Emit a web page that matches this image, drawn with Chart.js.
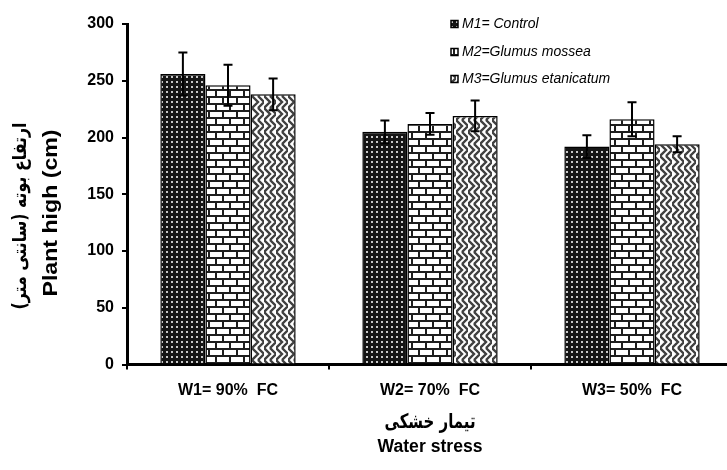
<!DOCTYPE html>
<html>
<head>
<meta charset="utf-8">
<script src="https://cdn.jsdelivr.net/npm/chart.js@4.4.1/dist/chart.umd.min.js"></script>
<style>
	html, body { margin: 0; padding: 0; background: #fff; overflow: hidden; }
	#wrap { width: 740px; height: 470px; }
</style>
</head>
<body>
<div id="wrap"><canvas id="chart"></canvas></div>
<script>
// chart data
const categories = ["W1= 90%  FC", "W2= 70%  FC", "W3= 50%  FC"];
const seriesLabels = ["M1= Control", "M2=Glumus mossea", "M3=Glumus etanicatum"];
const m1Values = [256, 205, 192];
const m1Errors = [19, 10, 10];
const m2Values = [246, 212, 216];
const m2Errors = [18, 9.5, 15];
const m3Values = [238, 219, 194];
const m3Errors = [14, 13.5, 7];
const yTitle = ["ارتفاع بوته (سانتی متر)", "Plant high (cm)"];
const xTitle = ["تیمار خشکی", "Water stress"];

// Function to build a repeating fill from a small tile
function makePattern(w, h, draw) {
	const c = document.createElement("canvas");
	c.width = w;
	c.height = h;
	const g = c.getContext("2d");
	draw(g);
	return g.createPattern(c, "repeat");
}

// dark dotted fill
const dotFill = makePattern(5, 5, (g) => {
	g.fillStyle = "#151515";
	g.fillRect(0, 0, 5, 5);
	g.fillStyle = "#c8c8c8";
	g.fillRect(1, 1, 2, 2);
});

// brick fill
const brickFill = makePattern(14, 14, (g) => {
	g.fillStyle = "#1e1e1e";
	g.fillRect(0, 0, 14, 14);
	g.fillStyle = "#ffffff";
	g.fillRect(0, 0, 12, 5);
	g.fillRect(7, 7, 7, 5);
	g.fillRect(0, 7, 5, 5);
});

// herringbone-ish fill
const zigFill = makePattern(12, 12, (g) => {
	g.fillStyle = "#ffffff";
	g.fillRect(0, 0, 12, 12);
	g.strokeStyle = "#404040";
	g.lineWidth = 2.4;
	g.beginPath();
	g.moveTo(0, 0); g.lineTo(6, 6); g.lineTo(0, 12);
	g.moveTo(6, 0); g.lineTo(12, 6); g.lineTo(6, 12);
	g.stroke();
});

const fills = [dotFill, brickFill, zigFill];

// error bars drawn through the bar centres
const errorBars = {
	id: "errorBars",
	afterDatasetsDraw(chart) {
		const ctx = chart.ctx;
		const y = chart.scales.y;
		ctx.save();
		ctx.strokeStyle = "#000";
		ctx.lineWidth = 2;
		chart.data.datasets.forEach((ds, i) => {
			chart.getDatasetMeta(i).data.forEach((bar, j) => {
				const top = y.getPixelForValue(ds.data[j] + ds.errors[j]);
				const bot = y.getPixelForValue(ds.data[j] - ds.errors[j]);
				ctx.beginPath();
				ctx.moveTo(bar.x, top);
				ctx.lineTo(bar.x, bot);
				ctx.moveTo(bar.x - 4.5, top);
				ctx.lineTo(bar.x + 4.5, top);
				ctx.moveTo(bar.x - 4.5, bot);
				ctx.lineTo(bar.x + 4.5, bot);
				ctx.stroke();
			});
		});
		ctx.restore();
	},
};

// text stretched to a given length
function fitText(ctx, text, x, y, font, len, rotate) {
	ctx.save();
	ctx.font = font;
	ctx.textAlign = "center";
	ctx.textBaseline = "middle";
	ctx.translate(x, y);
	if (rotate) ctx.rotate(-Math.PI / 2);
	const w = ctx.measureText(text).width;
	ctx.scale(len / w, 1);
	ctx.fillText(text, 0, 0);
	ctx.restore();
}

// axis titles and legend
const extras = {
	id: "extras",
	afterDraw(chart) {
		const ctx = chart.ctx;
		ctx.fillStyle = "#000";
		fitText(ctx, yTitle[0], 21, 216, "bold 19px 'DejaVu Sans'", 187, true);
		fitText(ctx, yTitle[1], 51, 213, "bold 20px 'Liberation Sans'", 167, true);
		fitText(ctx, xTitle[0], 430, 423, "bold 20px 'DejaVu Sans'", 91, false);
		fitText(ctx, xTitle[1], 430, 447, "bold 18px 'Liberation Sans'", 105, false);

		const rows = [24, 52, 79];
		chart.data.datasets.forEach((ds, i) => {
			ctx.save();
			ctx.fillStyle = fills[i];
			ctx.fillRect(451, rows[i] - 3.5, 7, 7);
			ctx.strokeStyle = "#000";
			ctx.lineWidth = 1.5;
			ctx.strokeRect(451, rows[i] - 3.5, 7, 7);
			ctx.fillStyle = "#000";
			ctx.font = "italic 14px 'Liberation Sans'";
			ctx.textBaseline = "middle";
			ctx.fillText(ds.label, 462, rows[i]);
			ctx.restore();
		});
	},
};

const seriesValues = [m1Values, m2Values, m3Values];
const seriesErrors = [m1Errors, m2Errors, m3Errors];

new Chart(document.getElementById("chart"), {
	type: "bar",
	data: {
		labels: categories,
		datasets: seriesLabels.map((label, i) => ({
			label: label,
			data: seriesValues[i],
			errors: seriesErrors[i],
			backgroundColor: fills[i],
			borderColor: "#000",
			borderWidth: 1.5,
			borderSkipped: "bottom",
			categoryPercentage: 0.67,
			barPercentage: 1.0,
		})),
	},
	options: {
		responsive: true,
		maintainAspectRatio: false,
		animation: false,
		devicePixelRatio: 1,
		layout: { padding: { top: 24, right: 7, bottom: 0, left: 0 } },
		plugins: {
			legend: { display: false },
			tooltip: { enabled: false },
		},
		scales: {
			x: {
				afterFit: (s) => { s.height = 105.5; },
				grid: {
					offset: true,
					drawOnChartArea: false,
					color: "#000",
					lineWidth: 2,
					tickLength: 5,
				},
				border: { display: true, color: "#000", width: 3 },
				ticks: {
					color: "#000",
					padding: 11,
					font: { family: "'Liberation Sans'", size: 16, weight: "bold" },
				},
			},
			y: {
				min: 0,
				max: 300,
				afterFit: (s) => { s.width = 127; },
				grid: {
					drawOnChartArea: false,
					color: "#000",
					lineWidth: 2,
					tickLength: 5,
				},
				border: { display: true, color: "#000", width: 3 },
				ticks: {
					stepSize: 50,
					color: "#000",
					padding: 8,
					font: { family: "'Liberation Sans'", size: 16, weight: "bold" },
				},
			},
		},
	},
	plugins: [errorBars, extras],
});
</script>
</body>
</html>
